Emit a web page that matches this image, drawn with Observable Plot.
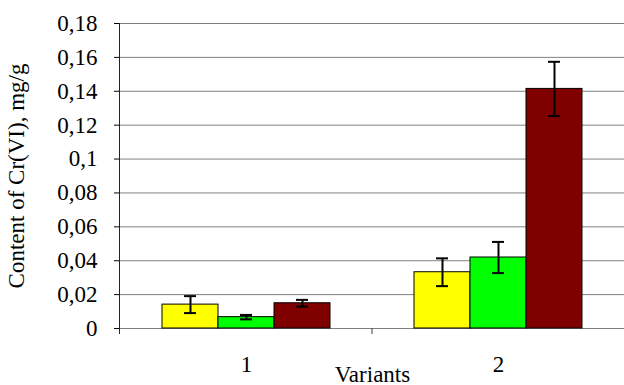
<!DOCTYPE html>
<html><head><meta charset="utf-8">
<script src="https://cdn.jsdelivr.net/npm/d3@7"></script>
<script src="https://cdn.jsdelivr.net/npm/@observablehq/plot@0.6"></script>
<style>
html,body{margin:0;padding:0;background:#fff;overflow:hidden}
#chart svg text{font-family:"Liberation Serif","Times New Roman",serif;font-size:23px;fill:#000}
</style></head><body><div id="chart"></div>
<script>
const variants = ["1", "2"];
const seriesNames = ["Series 1", "Series 2", "Series 3"];
const seriesColors = ["#ffff00", "#00ff00", "#800000"];
const means = [[0.0141, 0.0067, 0.0149], [0.0332, 0.0419, 0.1414]];
const errors = [[0.005, 0.0013, 0.002], [0.0082, 0.0092, 0.016]];
const yTicks = [0, 0.02, 0.04, 0.06, 0.08, 0.1, 0.12, 0.14, 0.16, 0.18];

const rows = [];
variants.forEach((v, i) => seriesNames.forEach((s, j) => rows.push({
  variant: v, series: s, value: means[i][j],
  lo: means[i][j] - errors[i][j], hi: means[i][j] + errors[i][j]
})));

const chart = Plot.plot({
  width: 624, height: 385,
  marginTop: 23, marginBottom: 57, marginLeft: 119, marginRight: 0,
  style: {background: "#fff", fontFamily: "Liberation Serif", fontSize: "23px", color: "#000"},
  facet: {data: rows, x: "variant"},
  fx: {domain: variants, padding: 0, axis: "bottom", tickSize: 0, tickPadding: 27,
       label: "Variants", labelAnchor: "center", labelOffset: 53},
  x: {domain: seriesNames, axis: null, paddingInner: 0, paddingOuter: 0.75},
  y: {domain: [0, 0.18], ticks: yTicks, tickFormat: d => String(d).replace(".", ","),
      tickSize: 6, tickPadding: 17, label: "Content of Cr(VI), mg/g",
      labelAnchor: "center", labelOffset: 113, labelArrow: "none"},
  color: {domain: seriesNames, range: seriesColors},
  marks: [
    Plot.ruleY(yTicks, {y: d => d, stroke: "#808080", strokeWidth: 1}),
    Plot.barY(rows, {x: "series", y: "value", fill: "series", stroke: "#000", strokeWidth: 1}),
    Plot.ruleX(rows, {x: "series", y1: "lo", y2: "hi", stroke: "#000", strokeWidth: 2}),
    Plot.tickY(rows, {x: "series", y: "lo", stroke: "#000", strokeWidth: 2, insetLeft: 22, insetRight: 22}),
    Plot.tickY(rows, {x: "series", y: "hi", stroke: "#000", strokeWidth: 2, insetLeft: 22, insetRight: 22})
  ]
});
document.getElementById("chart").appendChild(chart);

// axis line and category boundary ticks, positioned via the plot's scales
const svg = d3.select(chart.tagName.toLowerCase() === "svg" ? chart : chart.querySelector("svg"));
const ys = chart.scale("y");
const fxs = chart.scale("fx");
const yTop = Math.min(...ys.range), yBot = Math.max(...ys.range);
const r0 = Math.min(...fxs.range), r1 = Math.max(...fxs.range);
const step = (r1 - r0) / variants.length;
const g = svg.append("g").attr("stroke", "#404040").attr("stroke-width", 1);
g.append("line").attr("x1", r0 + 0.5).attr("x2", r0 + 0.5).attr("y1", yTop).attr("y2", yBot + 6).attr("stroke", "#222");
for (let k = 1; k <= variants.length; k++) {
  const x = r0 + k * step + 0.5;
  g.append("line").attr("x1", x).attr("x2", x).attr("y1", yBot).attr("y2", yBot + 6);
}
</script></body></html>
